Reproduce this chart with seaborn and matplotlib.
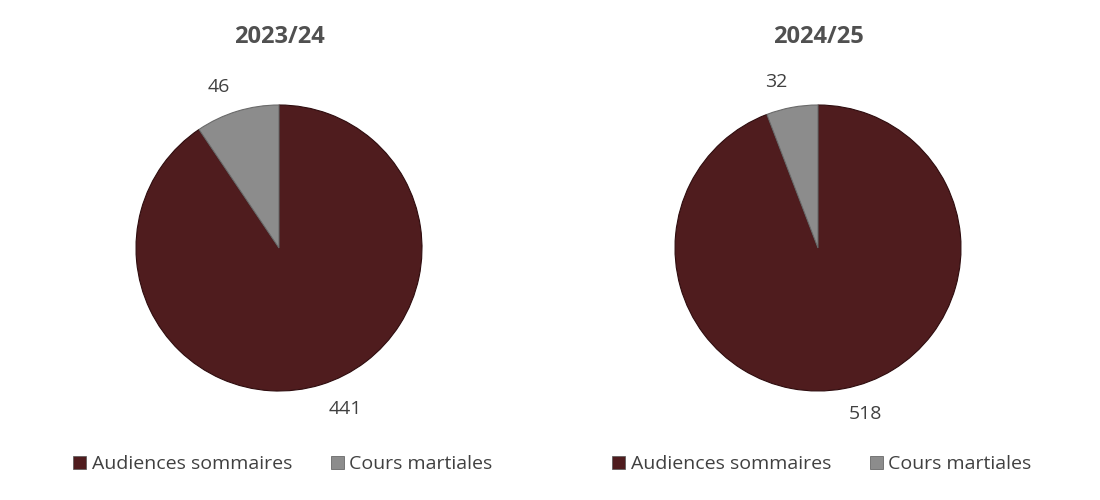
import matplotlib
matplotlib.use("Agg")
import matplotlib.pyplot as plt
import seaborn as sns
from matplotlib.patches import Patch

sns.set_theme(style="white")
plt.rcParams['font.family'] = ['Open Sans', 'DejaVu Sans']

years = ["2023/24", "2024/25"]
categories = ["Audiences sommaires", "Cours martiales"]
values_2023 = [441, 46]
values_2024 = [518, 32]
colors = ["#4F1C1E", "#8C8C8C"]

fig = plt.figure(figsize=(11, 5), dpi=100)
W, H = 1100, 500
R = 143
centers = [(279, 248), (818, 248)]
series = [values_2023, values_2024]

for (cx, cy), year, vals in zip(centers, years, series):
    ax = fig.add_axes([(cx - R) / W, (H - cy - R) / H, 2 * R / W, 2 * R / H])
    wedges, texts = ax.pie(vals, labels=[str(v) for v in vals], colors=colors,
                           startangle=90, counterclock=False, labeldistance=1.18,
                           wedgeprops=dict(edgecolor="#2e0c0e", linewidth=0.8),
                           textprops=dict(fontsize=14, color="#404040"))
    wedges[1].set_edgecolor("#6a6a6a")
    ax.set_xlim(-1, 1)
    ax.set_ylim(-1, 1)
    ax.set_aspect("equal")
    ax.axis("off")
    fig.text(cx / W, 1 - 37 / H, year, ha="center", va="center",
             fontsize=17, fontweight="bold", color="#505050")
    handles = [Patch(facecolor=c, edgecolor="#555555", linewidth=0.5) for c in colors]
    fig.legend(handles, categories, loc="center", ncol=2,
               bbox_to_anchor=((cx + 4) / W, 1 - 464 / H), frameon=False,
               fontsize=14, labelcolor="#404040", handlelength=0.65, handleheight=0.65,
               handletextpad=0.3, columnspacing=2.0)

fig.savefig("out.png", dpi=100, facecolor="white")
